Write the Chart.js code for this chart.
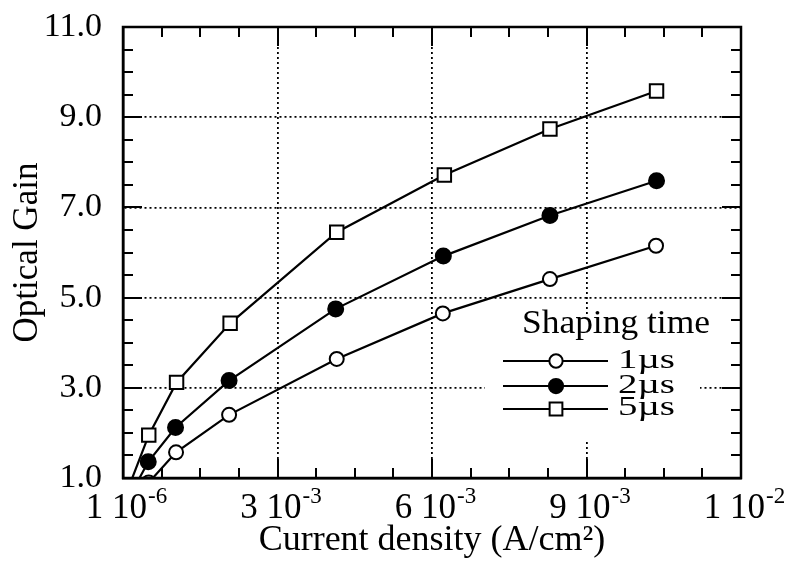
<!DOCTYPE html>
<html>
<head>
<meta charset="utf-8">
<script src="https://cdn.jsdelivr.net/npm/chart.js@4.4.1/dist/chart.umd.min.js"></script>
<style>
  html, body { margin: 0; padding: 0; background: #fff; }
  #wrap { width: 794px; height: 565px; }
</style>
</head>
<body>
<div id="wrap"><canvas id="c" width="794" height="565"></canvas></div>
<script>
// ---- data ----
const seriesNames = ['1\u00B5s', '2\u00B5s', '5\u00B5s'];
const legendTitle = 'Shaping time';

const density1us = [0.0005, 0.00103, 0.00206, 0.00415, 0.00621, 0.00829, 0.01035];
const gain1us    = [0.90,   1.57,    2.40,    3.64,    4.65,    5.41,    6.15];

const density2us = [0.000001, 0.00049, 0.00102, 0.00206, 0.00413, 0.00622, 0.00829, 0.01036];
const gain2us    = [0.32,     1.36,    2.12,    3.16,    4.75,    5.92,    6.82,    7.59];

const density5us = [0.000001, 0.0005, 0.00104, 0.00208, 0.00415, 0.00624, 0.00829, 0.01036];
const gain5us    = [0.47,     1.95,   3.12,    4.43,    6.45,    7.72,    8.74,    9.58];

const xTickValues   = [0, 0.003, 0.006, 0.009, 0.012];
const xTickMantissa = ['1', '3', '6', '9', '1'];
const xTickExponent = ['-6', '-3', '-3', '-3', '-2'];

const yTitle = 'Optical Gain';
const xTitle = 'Current density (A/cm\u00B2)';

// ---- chart ----
const FONT = '"Liberation Serif", "Times New Roman", Times, serif';
Chart.defaults.font.family = FONT;
Chart.defaults.color = '#000';

function pts(xs, ys) { return xs.map((x, i) => ({x: x, y: ys[i]})); }

function drawStretched(ctx, text, x, y, fontPx, targetW) {
  ctx.font = fontPx + 'px ' + FONT;
  const w = ctx.measureText(text).width;
  const sx = targetW / w;
  ctx.save();
  ctx.translate(x, y);
  ctx.scale(sx, 1);
  ctx.textAlign = 'left';
  ctx.textBaseline = 'alphabetic';
  ctx.fillText(text, 0, 0);
  ctx.restore();
}

const decor = {
  id: 'decor',
  beforeDatasetsDraw(chart) {
    const ctx = chart.ctx;
    // white legend box hides the grid behind it
    ctx.save();
    ctx.fillStyle = '#fff';
    ctx.fillRect(485, 314, 215, 126);
    ctx.restore();
  },
  afterDraw(chart) {
    const ctx = chart.ctx;
    const a = chart.chartArea;
    const xs = chart.scales.x, ys = chart.scales.y;
    ctx.save();
    // frame
    ctx.strokeStyle = '#000';
    ctx.lineWidth = 2.5;
    ctx.setLineDash([]);
    ctx.strokeRect(a.left, a.top, a.right - a.left, a.bottom - a.top);
    // inward ticks
    ctx.lineWidth = 2;
    ctx.beginPath();
    for (let i = 0; i <= 16; i++) {
      const v = xs.min + i * (xs.max - xs.min) / 16;
      const px = Math.round(xs.getPixelForValue(v));
      const len = (i % 4 === 0) ? 19 : 10;
      ctx.moveTo(px, a.bottom); ctx.lineTo(px, a.bottom - len);
      ctx.moveTo(px, a.top); ctx.lineTo(px, a.top + len);
    }
    for (let i = 0; i <= 20; i++) {
      const v = ys.min + i * (ys.max - ys.min) / 20;
      const py = Math.round(ys.getPixelForValue(v));
      const len = (i % 4 === 0) ? 19 : 10;
      ctx.moveTo(a.left, py); ctx.lineTo(a.left + len, py);
      ctx.moveTo(a.right, py); ctx.lineTo(a.right - len, py);
    }
    ctx.stroke();

    // x tick labels with superscript exponents
    ctx.fillStyle = '#000';
    ctx.textBaseline = 'alphabetic';
    ctx.textAlign = 'left';
    xTickValues.forEach((v, i) => {
      const px = xs.getPixelForValue(v);
      const main = xTickMantissa[i] + ' 10';
      ctx.font = '35px ' + FONT;
      const wm = ctx.measureText(main).width;
      ctx.font = '23px ' + FONT;
      const we = ctx.measureText(xTickExponent[i]).width;
      const start = px + 3 - (wm + we) / 2;
      ctx.font = '35px ' + FONT;
      ctx.fillText(main, start, 518);
      ctx.font = '23px ' + FONT;
      ctx.fillText(xTickExponent[i], start + wm + 1, 503);
    });

    // legend
    drawStretched(ctx, legendTitle, 522, 333, 33, 188);
    const rowY = [361, 386, 409];
    const baseY = [368, 393, 415];
    const dsets = chart.data.datasets;
    rowY.forEach((y, i) => {
      const ds = dsets[i];
      ctx.strokeStyle = '#000';
      ctx.lineWidth = 2;
      ctx.beginPath();
      ctx.moveTo(503, y); ctx.lineTo(608, y);
      ctx.stroke();
      ctx.lineWidth = ds.pointBorderWidth;
      ctx.strokeStyle = '#000';
      ctx.fillStyle = ds.pointBackgroundColor;
      Chart.helpers.drawPoint(ctx, {
        pointStyle: ds.pointStyle, rotation: 0,
        radius: ds.pointRadius * 0.95, borderWidth: ds.pointBorderWidth
      }, 556, y);
      ctx.fillStyle = '#000';
      drawStretched(ctx, seriesNames[i], 618, baseY[i], 28, 57);
    });
    ctx.restore();
  }
};

function lineDs(label, data, style, fill, radius) {
  return {
    label: label,
    data: data,
    showLine: true,
    borderColor: '#000',
    borderWidth: 2.2,
    pointStyle: style,
    pointRadius: radius,
    pointHoverRadius: radius,
    pointBackgroundColor: fill,
    pointBorderColor: '#000',
    pointBorderWidth: 2,
    clip: 0,
    tension: 0
  };
}

new Chart(document.getElementById('c'), {
  type: 'scatter',
  data: {
    datasets: [
      lineDs(seriesNames[0], pts(density1us, gain1us), 'circle', '#fff', 7),
      lineDs(seriesNames[1], pts(density2us, gain2us), 'circle', '#000', 7.5),
      lineDs(seriesNames[2], pts(density5us, gain5us), 'rect', '#fff', 9.5)
    ]
  },
  options: {
    responsive: false,
    animation: false,
    devicePixelRatio: 1,
    layout: { padding: { left: 0, right: 53, top: 27, bottom: 0 } },
    plugins: { legend: { display: false }, tooltip: { enabled: false } },
    scales: {
      x: {
        type: 'linear',
        min: xTickValues[0],
        max: xTickValues[xTickValues.length - 1],
        afterBuildTicks(scale) { scale.ticks = xTickValues.map(v => ({value: v})); },
        ticks: { display: false },
        grid: { color: '#000', lineWidth: 1.8, drawTicks: false },
        border: { display: true, color: '#000', width: 2.5, dash: [2, 3] },
        title: { display: true, text: xTitle, font: { size: 36, family: FONT }, color: '#000', padding: { top: 0, bottom: 3 } },
        afterFit(scale) { scale.height = 87; scale.paddingLeft = 0; scale.paddingRight = 0; }
      },
      y: {
        type: 'linear',
        min: 1,
        max: 11,
        ticks: { stepSize: 2, padding: 21, font: { size: 34, family: FONT }, color: '#000',
                 callback: v => Number(v).toFixed(1) },
        grid: { color: '#000', lineWidth: 1.8, drawTicks: false },
        border: { display: true, color: '#000', width: 2.5, dash: [2, 3] },
        title: { display: true, text: yTitle, font: { size: 35, family: FONT }, color: '#000', padding: { top: 7, bottom: 0 } },
        afterFit(scale) { scale.width = 123; scale.paddingTop = 0; scale.paddingBottom = 0; }
      }
    }
  },
  plugins: [decor]
});
</script>
</body>
</html>
